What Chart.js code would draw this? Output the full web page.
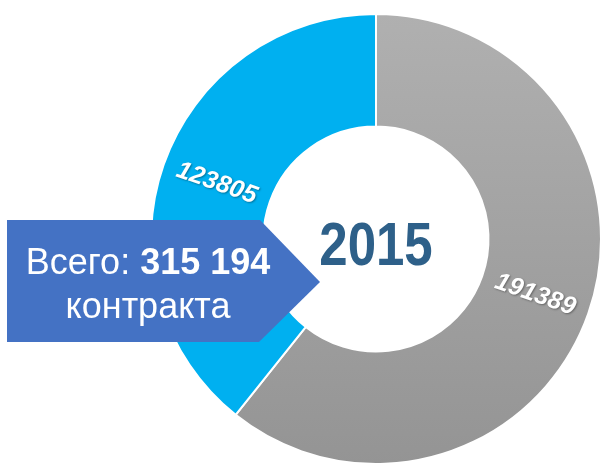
<!DOCTYPE html>
<html>
<head>
<meta charset="utf-8">
<script src="https://cdn.jsdelivr.net/npm/chart.js@4/dist/chart.umd.min.js"></script>
<style>
  html, body { margin: 0; padding: 0; background: #fff; }
  #wrap { width: 606px; height: 468px; }
</style>
</head>
<body>
<div id="wrap"><canvas id="contractsChart" width="606" height="468"></canvas></div>
<script>
const categories = ["Категория 1", "Категория 2"];
const values = [191389, 123805];
const yearLabel = "2015";

const FONT = '"Liberation Sans", Arial, sans-serif';

// vertical grey gradient like in the original slide
function sliceColor(ctx) {
  if (ctx.dataIndex === 1) return "#00b0f0";
  const area = ctx.chart.chartArea;
  if (!area) return "#a6a6a6";
  const g = ctx.chart.ctx.createLinearGradient(0, area.top, 0, area.bottom);
  g.addColorStop(0, "#b0b0b0");
  g.addColorStop(1, "#949494");
  return g;
}

const overlay = {
  id: "overlay",
  afterDraw(chart) {
    const ctx = chart.ctx;
    const arcs = chart.getDatasetMeta(0).data;

    // values inside the ring, aligned with the radius
    arcs.forEach((arc, i) => {
      const p = arc.getProps(["x", "y", "startAngle", "endAngle", "innerRadius", "outerRadius"], true);
      const mid = (p.startAngle + p.endAngle) / 2;
      const r = (p.innerRadius + p.outerRadius) / 2;
      let rot = mid;
      const norm = ((mid % (2 * Math.PI)) + 2 * Math.PI) % (2 * Math.PI);
      if (norm > Math.PI / 2 && norm < 1.5 * Math.PI) rot -= Math.PI;
      ctx.save();
      ctx.translate(p.x + Math.cos(mid) * r, p.y + Math.sin(mid) * r);
      ctx.rotate(rot);
      ctx.font = "italic bold 25px " + FONT;
      ctx.fillStyle = "#fff";
      ctx.textAlign = "center";
      ctx.textBaseline = "middle";
      ctx.shadowColor = "rgba(0,0,0,0.35)";
      ctx.shadowOffsetX = 1;
      ctx.shadowOffsetY = 1;
      ctx.shadowBlur = 2;
      ctx.fillText(String(values[i]), 0, 0);
      ctx.restore();
    });

    // year in the middle
    const c = arcs[0];
    ctx.save();
    ctx.translate(c.x, c.y + 9);
    ctx.scale(1, 1.2);
    ctx.font = "bold 51px " + FONT;
    ctx.fillStyle = "#2e6089";
    ctx.textAlign = "center";
    ctx.textBaseline = "middle";
    ctx.fillText(yearLabel, 0, 0);
    ctx.restore();

    // callout arrow with the total
    ctx.save();
    ctx.fillStyle = "#4472c4";
    ctx.beginPath();
    ctx.moveTo(7, 220);
    ctx.lineTo(260, 220);
    ctx.lineTo(320, 282);
    ctx.lineTo(259, 342);
    ctx.lineTo(7, 342);
    ctx.closePath();
    ctx.fill();

    const total = values.reduce((a, b) => a + b, 0);
    const totalStr = total.toString().replace(/\B(?=(\d{3})+(?!\d))/g, " ");
    const lead = "Всего: ";
    ctx.fillStyle = "#fff";
    ctx.textBaseline = "alphabetic";
    ctx.font = "36px " + FONT;
    const w1 = ctx.measureText(lead).width;
    ctx.font = "bold 36px " + FONT;
    const w2 = ctx.measureText(totalStr).width;
    const x0 = 148 - (w1 + w2) / 2;
    ctx.font = "36px " + FONT;
    ctx.textAlign = "left";
    ctx.fillText(lead, x0, 274);
    ctx.font = "bold 36px " + FONT;
    ctx.fillText(totalStr, x0 + w1, 274);
    ctx.font = "36px " + FONT;
    ctx.textAlign = "center";
    ctx.fillText("контракта", 148, 318);
    ctx.restore();
  }
};

new Chart(document.getElementById("contractsChart"), {
  type: "doughnut",
  data: {
    labels: categories,
    datasets: [
      {
        data: values,
        backgroundColor: sliceColor,
        borderColor: "#ffffff",
        borderWidth: 2
      }
    ]
  },
  options: {
    responsive: false,
    animation: false,
    cutout: "50%",
    layout: {
      padding: { left: 150, top: 13, right: 4, bottom: 3 }
    },
    plugins: {
      legend: { display: false },
      tooltip: { enabled: false }
    }
  },
  plugins: [overlay]
});
</script>
</body>
</html>
